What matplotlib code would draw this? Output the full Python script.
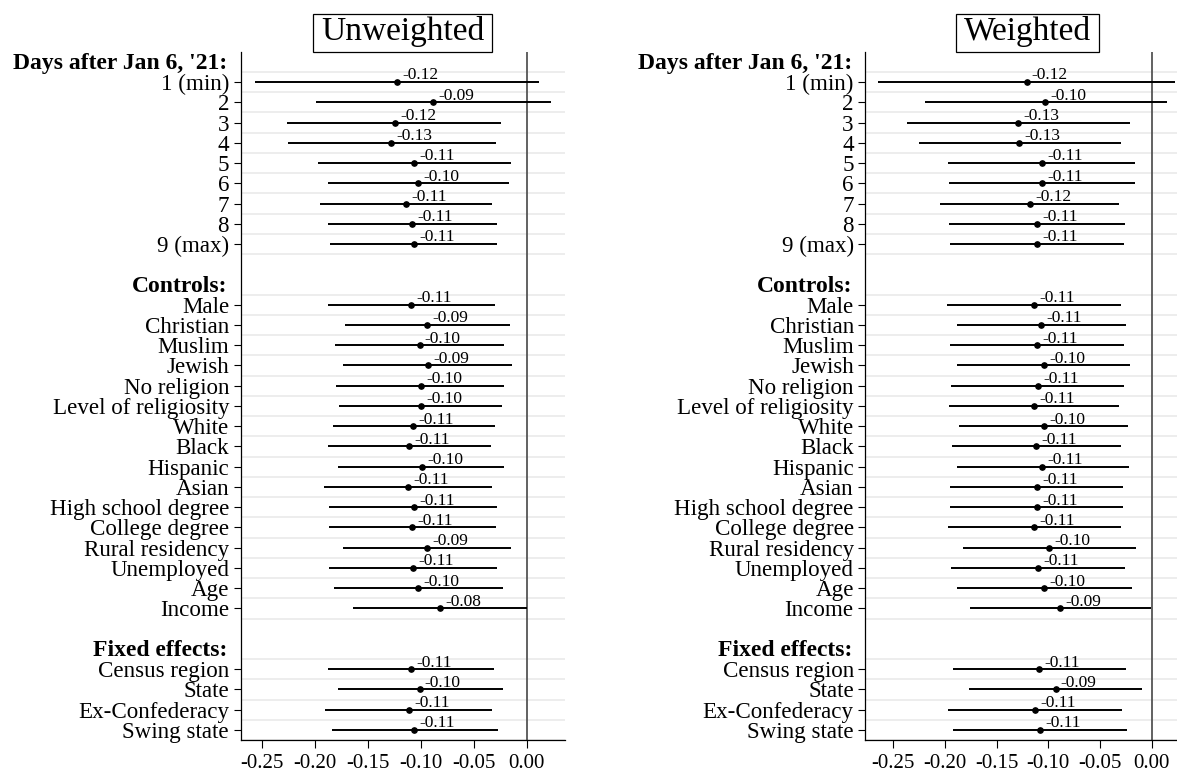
import matplotlib
matplotlib.use("Agg")
import matplotlib.pyplot as plt
from matplotlib.patches import Rectangle
from matplotlib.transforms import offset_copy

plt.rcParams['font.family'] = ['Liberation Serif', 'DejaVu Serif']

# ---- groups of coefficients (section header + variable names) ----
section_titles = ["Days after Jan 6, '21:", "Controls:", "Fixed effects:"]
day_labels = ["1 (min)", "2", "3", "4", "5", "6", "7", "8", "9 (max)"]
control_labels = ["Male", "Christian", "Muslim", "Jewish", "No religion",
                  "Level of religiosity", "White", "Black", "Hispanic", "Asian",
                  "High school degree", "College degree", "Rural residency",
                  "Unemployed", "Age", "Income"]
fe_labels = ["Census region", "State", "Ex-Confederacy", "Swing state"]

# ---- unweighted: point estimates and 95% CI bounds (days, controls, FE) ----
unw_est = [-0.122, -0.088, -0.124, -0.128, -0.106, -0.102, -0.114, -0.108, -0.106,
           -0.109, -0.094, -0.101, -0.093, -0.100, -0.100, -0.107, -0.111, -0.099,
           -0.112, -0.106, -0.108, -0.094, -0.107, -0.102, -0.082,
           -0.109, -0.101, -0.111, -0.106]
unw_lo = [-0.256, -0.199, -0.226, -0.225, -0.197, -0.187, -0.195, -0.187, -0.185,
          -0.187, -0.171, -0.181, -0.173, -0.180, -0.177, -0.183, -0.187, -0.178,
          -0.191, -0.186, -0.186, -0.173, -0.186, -0.182, -0.164,
          -0.187, -0.178, -0.190, -0.184]
unw_hi = [0.012, 0.023, -0.024, -0.029, -0.015, -0.017, -0.033, -0.028, -0.028,
          -0.030, -0.016, -0.021, -0.014, -0.021, -0.023, -0.030, -0.034, -0.021,
          -0.033, -0.028, -0.029, -0.015, -0.028, -0.022, 0.000,
          -0.031, -0.022, -0.033, -0.027]

# ---- weighted ----
wt_est = [-0.121, -0.103, -0.129, -0.128, -0.106, -0.106, -0.118, -0.111, -0.111,
          -0.114, -0.107, -0.111, -0.104, -0.110, -0.114, -0.104, -0.112, -0.106,
          -0.111, -0.111, -0.114, -0.099, -0.110, -0.104, -0.089,
          -0.109, -0.093, -0.113, -0.108]
wt_lo = [-0.265, -0.219, -0.237, -0.225, -0.197, -0.196, -0.205, -0.196, -0.195,
         -0.198, -0.188, -0.195, -0.188, -0.194, -0.196, -0.186, -0.193, -0.188,
         -0.195, -0.195, -0.197, -0.183, -0.194, -0.188, -0.176,
         -0.192, -0.177, -0.197, -0.192]
wt_hi = [0.023, 0.015, -0.021, -0.030, -0.016, -0.016, -0.032, -0.026, -0.027,
         -0.030, -0.025, -0.027, -0.021, -0.027, -0.032, -0.023, -0.030, -0.022,
         -0.028, -0.028, -0.030, -0.015, -0.026, -0.019, -0.001,
         -0.025, -0.009, -0.029, -0.024]

x_ticks = [-0.25, -0.20, -0.15, -0.10, -0.05, 0.00]
panel_titles = ["Unweighted", "Weighted"]

# ---- row positions: header row, then one row per variable, blank row between groups ----
groups = [day_labels, control_labels, fe_labels]
header_rows, data_rows, data_labels = [], [], []
r = -1
for gi, labels in enumerate(groups):
    header_rows.append(r)
    r += 1
    for lab in labels:
        data_rows.append(r)
        data_labels.append(lab)
        r += 1
    r += 1  # empty spacer row

W, H = 1177, 775
fig = plt.figure(figsize=(W / 100, H / 100), dpi=100)
fig.patch.set_facecolor('white')

top_px, bot_px = 51.7, 740.0
panels = [
    dict(left=240.5, right=565.1, xlim=(-0.2698, 0.0362),
         est=unw_est, lo=unw_lo, hi=unw_hi, title=panel_titles[0]),
    dict(left=865.2, right=1189.0, xlim=(-0.2772, 0.0362),
         est=wt_est, lo=wt_lo, hi=wt_hi, title=panel_titles[1]),
]

grid_rows = sorted(set([y - 0.5 for y in data_rows] + [y + 0.5 for y in data_rows]))

for p in panels:
    ax = fig.add_axes([p['left'] / W, 1 - bot_px / H,
                       (p['right'] - p['left']) / W, (bot_px - top_px) / H])
    ax.set_facecolor('white')
    ax.set_xlim(*p['xlim'])
    ax.set_ylim(32.5, -1.5)

    for gy in grid_rows:
        ax.axhline(gy, color='#e8e8e8', lw=1.1, zorder=0)
    ax.axvline(0, color='#555555', lw=1.3, zorder=1)

    ax.hlines(data_rows, p['lo'], p['hi'], color='black', lw=1.4, zorder=2)
    ax.plot(p['est'], data_rows, 'o', color='black', ms=3.8, zorder=3)
    for x, y in zip(p['est'], data_rows):
        ax.annotate(f"{x:.2f}", (x, y), xytext=(3.8, 1.9), textcoords='offset points',
                    ha='left', va='baseline', fontsize=12.5, color='black', zorder=4)

    ax.set_yticks(data_rows)
    ax.set_yticklabels(data_labels)
    ax.set_xticks(x_ticks)
    ax.set_xticklabels([f"{t:.2f}" for t in x_ticks])
    ax.tick_params(axis='y', length=5.0, width=0.8, pad=3.2, labelsize=16.6, colors='black')
    ax.tick_params(axis='x', length=5.4, width=0.8, pad=5.0, labelsize=15, colors='black')

    for side in ['top', 'right']:
        ax.spines[side].set_visible(False)
    for side in ['left', 'bottom']:
        ax.spines[side].set_color('black')
        ax.spines[side].set_linewidth(0.9)

    hdr_tr = offset_copy(ax.get_yaxis_transform(), fig=fig, x=-13, y=-7, units='dots')
    for hy, ht in zip(header_rows, section_titles):
        ax.text(0, hy, ht, transform=hdr_tr, ha='right', va='baseline',
                fontsize=17, fontweight='bold', color='black', clip_on=False)

    # boxed panel title sitting on top of the plotting area
    cx = (p['left'] + p['right']) / 2
    t = fig.text(cx / W, 1 - 40.0 / H, p['title'], ha='center', va='baseline',
                 fontsize=24, color='black')
    p['title_artist'] = t

fig.canvas.draw()
renderer = fig.canvas.get_renderer()
for p in panels:
    bb = p['title_artist'].get_window_extent(renderer)
    x0 = bb.x0 - 8
    w = bb.width + 16
    y0 = H - top_px
    h = top_px - 14.3
    fig.add_artist(Rectangle((x0 / W, y0 / H), w / W, h / H, transform=fig.transFigure,
                             facecolor='none', edgecolor='black', lw=0.9))

fig.savefig('out.png', dpi=100)
